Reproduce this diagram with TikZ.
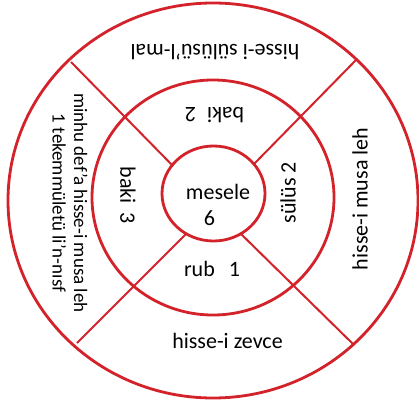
\documentclass[tikz,border=0pt]{standalone}
\usepackage{fontspec}
\setmainfont{Carlito}
\usetikzlibrary{shapes.geometric}
\definecolor{ringred}{RGB}{212,34,42}
\begin{document}
\begin{tikzpicture}[x=1pt,y=-1pt,
  ring/.style={ellipse,draw=ringred,line width=2.8pt,inner sep=0pt,minimum width=#1},
  spoke/.style={draw=ringred,line width=2pt},
  lbl/.style={inner sep=0pt,font=\fontsize{22}{22}\selectfont,text=black},
  smalllbl/.style={inner sep=0pt,font=\fontsize{19}{21.5}\selectfont,text=black}]
\useasboundingbox (0,0) rectangle (419,403);
\fill[white] (0,0) rectangle (419,403);

% three rings
\node[ring=410pt,minimum height=395pt] (outer) at (213,200.5) {};
\node[ring=242pt,minimum height=235pt] (middle) at (213,197.5) {};
\node[ring=103pt,minimum height=95pt] (inner) at (213.5,193.5) {};

% end points of the four spokes
\coordinate (tlo) at (71,62);   \coordinate (tli) at (173,166);
\coordinate (tro) at (357,59);  \coordinate (tri) at (254,164);
\coordinate (blo) at (77,343);  \coordinate (bli) at (186,234);
\coordinate (bro) at (353,344); \coordinate (bri) at (241,234);
\draw[spoke] (tlo) -- (tli);
\draw[spoke] (tro) -- (tri);
\draw[spoke] (blo) -- (bli);
\draw[spoke] (bro) -- (bri);

% labels
\node[lbl] (mesele) at (218,191.5) {mesele};
\node[lbl] (six) at (209.5,218.5) {6};
\node[lbl] (rub) at (212,268.5) {rub\hspace{14pt}1};
\node[lbl,rotate=180] (baki2) at (214.5,115) {baki\hspace{11pt}2};
\node[lbl,rotate=-90] (baki3) at (128,195.5) {baki\hspace{9pt}3};
\node[lbl,rotate=90] (sulus) at (288,193) {sülüs\hspace{4pt}2};
\node[lbl,rotate=180] (mal) at (215,52) {hisse-i sülüsü'l-mal};
\node[lbl,rotate=90] (musa) at (360,199) {hisse-i musa leh};
\node[lbl] (zevce) at (227.5,341) {hisse-i zevce};
\node[smalllbl,rotate=-90,align=center] (minhu) at (70,203)
  {minhu def'a hisse-i musa leh\\1 tekemmületü li'n-nısf};
\end{tikzpicture}
\end{document}
